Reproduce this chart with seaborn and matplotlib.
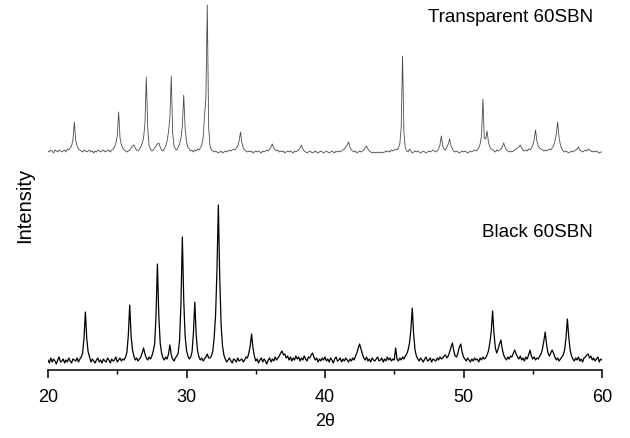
import numpy as np
import pandas as pd
import matplotlib
matplotlib.use("Agg")
import matplotlib.pyplot as plt
from matplotlib.ticker import MultipleLocator
import seaborn as sns

# 2-theta scan grid (degrees), 0.1 deg steps from 20 to 60
two_theta = np.round(np.arange(200, 601) / 10.0, 1)

# Black 60SBN diffraction counts (arbitrary units)
black_counts = [
    10, 7, 12, 8, 11, 9, 6, 10, 13, 8, 9, 11, 7, 10, 8, 12, 9, 7, 11, 10,
    9, 12, 8, 11, 13, 17, 32, 58, 31, 18, 13, 8, 11, 9, 7, 10, 12, 8, 10, 7,
    11, 9, 8, 12, 10, 7, 11, 9, 10, 13, 8, 10, 12, 9, 11, 10, 13, 18, 35, 65,
    34, 20, 14, 10, 12, 9, 11, 13, 17, 22, 16, 12, 10, 13, 11, 14, 19, 26, 55, 106,
    54, 27, 17, 12, 10, 13, 11, 16, 25, 15, 11, 9, 12, 14, 17, 30, 67, 133, 70, 34,
    20, 14, 11, 13, 18, 37, 68, 35, 19, 13, 10, 12, 9, 11, 13, 16, 12, 12, 14, 19,
    33, 55, 100, 165, 92, 45, 24, 15, 11, 8, 10, 12, 9, 7, 11, 10, 8, 12, 9, 10,
    11, 8, 10, 13, 12, 17, 24, 36, 22, 14, 9, 11, 7, 10, 12, 8, 11, 9, 6, 10,
    12, 8, 11, 9, 13, 10, 12, 14, 17, 19, 15, 16, 12, 14, 10, 13, 9, 12, 10, 14,
    11, 13, 9, 12, 10, 14, 11, 9, 13, 12, 15, 17, 13, 10, 12, 8, 11, 9, 12, 10,
    13, 9, 11, 8, 12, 10, 7, 11, 13, 9, 10, 12, 8, 11, 9, 12, 10, 8, 11, 9,
    12, 10, 14, 17, 22, 26, 21, 16, 12, 10, 13, 9, 11, 8, 12, 10, 9, 11, 13, 9,
    10, 12, 8, 11, 9, 13, 10, 12, 9, 11, 10, 22, 11, 9, 12, 10, 13, 11, 14, 16,
    20, 27, 40, 62, 36, 20, 14, 11, 9, 12, 10, 8, 11, 13, 9, 10, 12, 8, 11, 10,
    9, 12, 10, 13, 11, 12, 14, 15, 12, 14, 18, 23, 27, 19, 14, 13, 17, 23, 26, 18,
    13, 11, 9, 12, 10, 8, 11, 9, 12, 10, 11, 8, 12, 10, 13, 11, 12, 15, 19, 27,
    38, 59, 37, 22, 17, 21, 26, 30, 21, 15, 12, 10, 13, 11, 14, 13, 17, 20, 16, 13,
    11, 14, 10, 12, 9, 13, 11, 15, 20, 14, 11, 13, 10, 12, 11, 14, 16, 21, 29, 38,
    25, 17, 14, 17, 20, 17, 13, 10, 12, 9, 11, 13, 15, 20, 32, 51, 33, 20, 14, 11,
    9, 12, 10, 13, 9, 11, 8, 12, 13, 15, 16, 12, 14, 10, 12, 9, 11, 13, 8, 11,
    10,
]

# Transparent 60SBN diffraction counts (arbitrary units)
transparent_counts = [
    7, 6, 8, 7, 5, 8, 7, 6, 8, 7, 6, 7, 8, 6, 9, 8, 10, 12, 18, 36,
    18, 12, 9, 8, 7, 6, 8, 7, 6, 7, 8, 6, 7, 5, 7, 6, 8, 7, 6, 7,
    8, 6, 7, 7, 8, 6, 8, 9, 11, 15, 22, 46, 20, 13, 10, 8, 7, 6, 7, 8,
    10, 12, 13, 10, 8, 7, 9, 11, 15, 20, 35, 81, 30, 12, 9, 7, 8, 10, 12, 14,
    15, 11, 8, 7, 9, 12, 17, 26, 40, 82, 25, 12, 9, 8, 11, 14, 20, 32, 63, 30,
    16, 11, 9, 7, 8, 6, 8, 7, 9, 8, 10, 13, 20, 42, 60, 153, 30, 12, 8, 7,
    6, 7, 6, 5, 6, 7, 5, 6, 7, 6, 7, 8, 7, 8, 9, 8, 10, 12, 17, 26,
    15, 10, 8, 7, 6, 7, 6, 7, 5, 6, 7, 6, 7, 6, 5, 7, 6, 7, 8, 7,
    9, 11, 14, 10, 8, 7, 8, 6, 7, 6, 7, 5, 6, 7, 6, 7, 6, 5, 7, 6,
    7, 8, 10, 13, 9, 7, 6, 5, 6, 7, 6, 5, 6, 7, 6, 5, 6, 7, 6, 5,
    6, 7, 6, 5, 6, 7, 6, 5, 7, 6, 7, 6, 7, 8, 9, 11, 13, 16, 11, 8,
    7, 6, 7, 5, 6, 7, 6, 7, 8, 10, 12, 9, 7, 6, 5, 6, 5, 6, 5, 6,
    5, 6, 5, 6, 7, 6, 7, 6, 8, 7, 8, 9, 8, 10, 14, 30, 102, 25, 10, 7,
    6, 9, 7, 5, 6, 7, 6, 7, 6, 5, 6, 7, 6, 5, 6, 7, 6, 7, 8, 7,
    6, 7, 9, 13, 22, 12, 9, 8, 11, 14, 19, 12, 9, 7, 6, 7, 6, 5, 6, 7,
    6, 7, 6, 5, 6, 7, 6, 7, 8, 7, 8, 10, 14, 22, 59, 20, 19, 27, 16, 11,
    9, 8, 7, 6, 8, 7, 8, 9, 11, 15, 11, 8, 7, 6, 7, 6, 7, 8, 9, 10,
    11, 13, 10, 8, 7, 8, 7, 9, 8, 10, 13, 18, 28, 17, 12, 10, 9, 8, 7, 8,
    7, 8, 9, 8, 10, 12, 17, 24, 36, 20, 13, 9, 7, 6, 7, 6, 5, 6, 7, 6,
    7, 8, 9, 11, 8, 7, 6, 7, 8, 7, 9, 8, 7, 6, 7, 6, 7, 6, 5, 6,
    6,
]

# vertical stacking offset applied to the upper pattern
stack_offset = 212

df_black = pd.DataFrame({"two_theta": two_theta, "counts": black_counts})
df_trans = pd.DataFrame({"two_theta": two_theta,
                         "counts": np.array(transparent_counts) + stack_offset})

sns.set_style("white")
plt.rcParams["font.family"] = ["Liberation Sans", "DejaVu Sans"]
plt.rcParams["text.color"] = "black"
plt.rcParams["axes.labelcolor"] = "black"
plt.rcParams["xtick.color"] = "black"

fig = plt.figure(figsize=(6.30, 4.39), dpi=100)
ax = fig.add_axes([48 / 630, 68 / 439, 554 / 630, 371 / 439])

sns.lineplot(data=df_trans, x="two_theta", y="counts", ax=ax,
             color="#4a4a4a", linewidth=0.6)
sns.lineplot(data=df_black, x="two_theta", y="counts", ax=ax,
             color="black", linewidth=0.9)

ax.set_xlim(20, 60)
ax.set_ylim(0, 371)

for side in ("top", "right", "left"):
    ax.spines[side].set_visible(False)
ax.spines["bottom"].set_linewidth(1.1)
ax.spines["bottom"].set_color("black")

ax.xaxis.set_major_locator(MultipleLocator(10))
ax.xaxis.set_minor_locator(MultipleLocator(5))
ax.tick_params(axis="x", which="major", direction="out", length=6, width=1.1,
               labelsize=13, pad=7, bottom=True, colors="black",
               labelcolor="black")
ax.tick_params(axis="x", which="minor", direction="out", length=3, width=1.0,
               bottom=True, colors="black")
ax.set_yticks([])

ax.set_xlabel("2\u03b8", fontsize=13, labelpad=5, color="black")
ax.set_ylabel("Intensity", fontsize=14.5, color="black")
ax.yaxis.set_label_coords(-0.025, 0.445)

ax.text(0.984, 354, "Transparent 60SBN", transform=ax.get_yaxis_transform(),
        ha="right", va="center", fontsize=13.5, color="black")
ax.text(0.984, 138, "Black 60SBN", transform=ax.get_yaxis_transform(),
        ha="right", va="center", fontsize=13.5, color="black")

fig.savefig("out.png", dpi=100)
